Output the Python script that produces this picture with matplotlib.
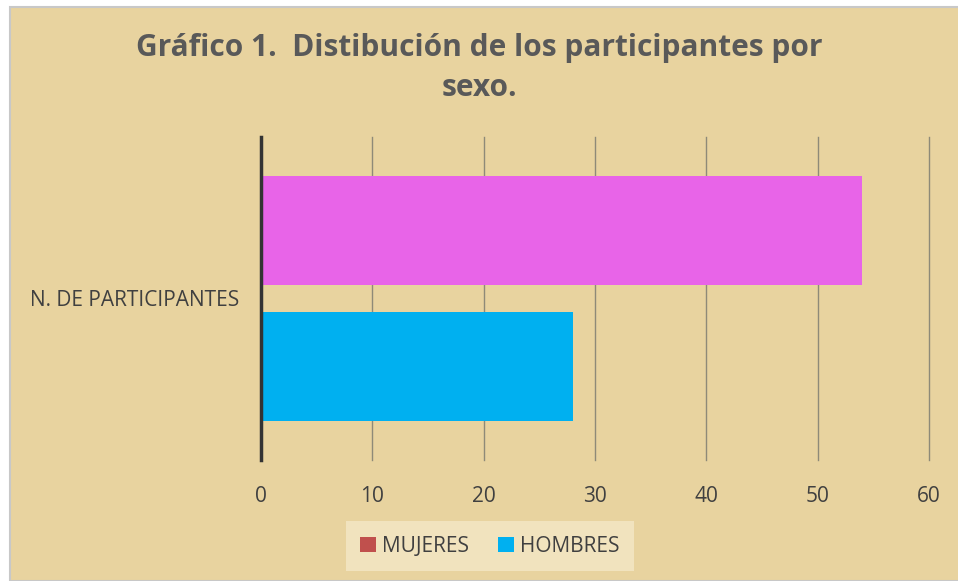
import matplotlib
matplotlib.use("Agg")
import matplotlib.pyplot as plt
from matplotlib.patches import Patch, Rectangle

# -------
# Data
# -------
category = "N. DE PARTICIPANTES"
series_names = ["MUJERES", "HOMBRES"]
series_values = [54, 28]
bar_colors = ["#E864E8", "#00B0F0"]
legend_colors = ["#C0504D", "#00B0F0"]
x_ticks = [0, 10, 20, 30, 40, 50, 60]

title = "Gráfico 1.  Distibución de los participantes por\nsexo."

plt.rcParams['font.family'] = ['Open Sans', 'DejaVu Sans']

paper = "#E8D39F"
text_gray = "#404040"
fs = 15

fig = plt.figure(figsize=(9.58, 5.81), dpi=100)
fig.patch.set_facecolor("white")

# chart area (parchment) with light gray frame, behind the axes
frame = Rectangle((9.5 / 958, 0), 1, 1 - 7 / 581, transform=fig.transFigure,
                  facecolor=paper, edgecolor="#C8C8C8", linewidth=1.5, zorder=-5)
fig.patches.append(frame)

ax = fig.add_axes([261 / 958, 1 - 460 / 581, (929 - 261) / 958, (460 - 137) / 581])
ax.set_facecolor("none")

offsets = [0.21, -0.21]
for off, val, col in zip(offsets, series_values, bar_colors):
    ax.barh(off, val, height=0.3375, color=col, zorder=3)

ax.set_xlim(0, 60)
ax.set_ylim(-0.5, 0.5)
ax.set_xticks(x_ticks)
ax.set_xticklabels([str(t) for t in x_ticks], fontsize=fs, color=text_gray)
ax.set_yticks([0])
ax.set_yticklabels([category], fontsize=fs, color=text_gray)
ax.tick_params(axis="x", length=0, pad=19)
ax.tick_params(axis="y", length=0, pad=16)
ax.grid(axis="x", color="#8E8A78", linewidth=1, zorder=1)
for gl in ax.get_xgridlines():
    gl.set_clip_on(False)

for s in ["top", "right", "bottom"]:
    ax.spines[s].set_visible(False)
ax.spines["left"].set_color("#333333")
ax.spines["left"].set_linewidth(2.5)
ax.spines["left"].set_zorder(4)

fig.text(0.5, 1 - 68 / 581, title, ha="center", va="center", fontsize=21.5,
         fontweight="bold", color="#595959", linespacing=1.45)

handles = [Patch(facecolor=c, edgecolor="none") for c in legend_colors]
leg = fig.legend(handles, series_names, loc="center", bbox_to_anchor=(490 / 958, 1 - 546 / 581),
                 ncol=2, frameon=True, fontsize=fs, handlelength=0.75, handleheight=0.75,
                 handletextpad=0.3, columnspacing=1.4, borderpad=0.7, borderaxespad=0)
leg.get_frame().set_facecolor("#F3E6C4")
leg.get_frame().set_edgecolor("none")
leg.get_frame().set_alpha(0.85)
leg.get_frame().set_boxstyle("square", pad=0)
for t in leg.get_texts():
    t.set_color(text_gray)

fig.savefig("out.png", dpi=100)
